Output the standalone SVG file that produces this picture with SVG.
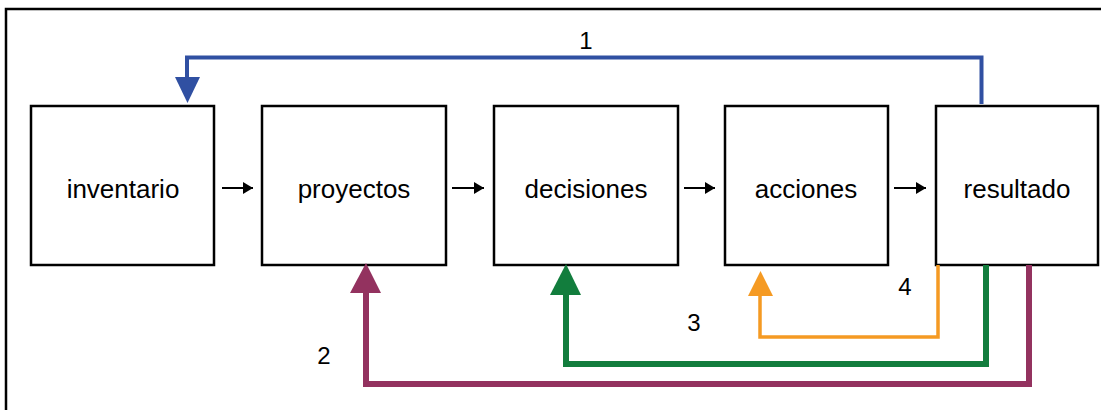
<svg xmlns="http://www.w3.org/2000/svg" width="1101" height="410" viewBox="0 0 1101 410">
<style>
.frame{fill:none;stroke:#000;stroke-width:2.5}
.box{fill:#fff;stroke:#000;stroke-width:2.5}
.lbl{font-family:"Liberation Sans",Arial,sans-serif;font-size:26px;fill:#000;text-anchor:middle}
.num{font-family:"Liberation Sans",Arial,sans-serif;font-size:24px;fill:#000;text-anchor:middle}
.blk{stroke:#000;stroke-width:2;fill:none}
.c{fill:none}
</style>
<defs>
<marker id="ah" markerWidth="10" markerHeight="12" refX="10" refY="6" orient="auto" markerUnits="userSpaceOnUse">
<path d="M0,0 L10,6 L0,12 Z" fill="#000"/>
</marker>
</defs>
<rect class="frame" x="6" y="9" width="1110" height="420"/>
<g id="n-inventario"><rect class="box" x="31" y="106" width="183" height="159"/><text class="lbl" x="123" y="198">inventario</text></g>
<g id="n-proyectos"><rect class="box" x="262" y="106" width="184" height="159"/><text class="lbl" x="354" y="198">proyectos</text></g>
<g id="n-decisiones"><rect class="box" x="494" y="106" width="184" height="159"/><text class="lbl" x="586" y="198">decisiones</text></g>
<g id="n-acciones"><rect class="box" x="725" y="106" width="163" height="159"/><text class="lbl" x="806" y="198">acciones</text></g>
<g id="n-resultado"><rect class="box" x="936" y="106" width="162" height="159"/><text class="lbl" x="1017" y="198">resultado</text></g>
<g id="connectors">
<line class="blk" x1="222" y1="188" x2="253" y2="188" marker-end="url(#ah)"/>
<line class="blk" x1="452" y1="188" x2="484" y2="188" marker-end="url(#ah)"/>
<line class="blk" x1="684" y1="188" x2="715" y2="188" marker-end="url(#ah)"/>
<line class="blk" x1="894" y1="188" x2="926" y2="188" marker-end="url(#ah)"/>
<path class="c" d="M981.5,104 V57.5 H187 V80" stroke="#3050A2" stroke-width="4"/>
<polygon points="175,77 200,77 187.5,103" fill="#3050A2"/>
<path class="c" d="M1029,265 V384 H366 V293" stroke="#93325F" stroke-width="6"/>
<polygon points="350,293 381,293 366,263" fill="#93325F"/>
<path class="c" d="M986,265 V364 H566 V295" stroke="#127D3D" stroke-width="6"/>
<polygon points="550,295 581,295 566,264" fill="#127D3D"/>
<path class="c" d="M938,265 V337 H760 V296" stroke="#F59A23" stroke-width="3.5"/>
<polygon points="748,296 773,296 760.5,271" fill="#F59A23"/>
<text class="num" x="586" y="49">1</text>
<text class="num" x="324" y="364">2</text>
<text class="num" x="694" y="331">3</text>
<text class="num" x="905" y="295">4</text>
</g>
</svg>
